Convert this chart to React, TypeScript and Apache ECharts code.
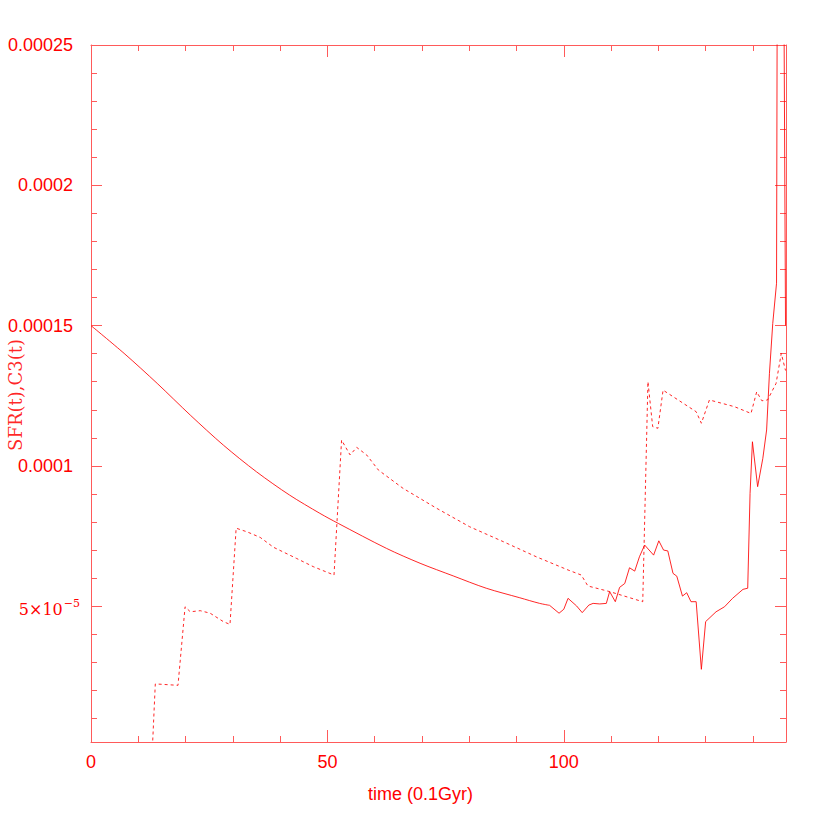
import React, { useEffect, useRef } from "react";
import * as echarts from "echarts";

// ---- data ----
// SFR(t): smooth early decline
const sfrEarlyTime = [0, 7, 14, 21, 28, 35, 42, 48.4, 52.3, 62.5, 69.6, 76.6, 83.6, 90.7, 94.9, 97.0];
const sfrEarlyValues = [1.5e-4, 1.401e-4, 1.294e-4, 1.181e-4, 1.074e-4, 0.979e-4, 0.896e-4, 0.831e-4, 0.795e-4, 0.706e-4, 0.653e-4, 0.608e-4, 0.564e-4, 0.530e-4, 0.510e-4, 0.503e-4];
// SFR(t): noisy late part
const sfrLateTime = [97.0, 99.0, 100.0, 100.9, 102.7, 103.9, 105.3, 106.2, 107.6, 109.0, 109.7, 110.9, 111.8, 112.9, 113.9, 115.0, 116.0, 117.1, 119.0, 120.1, 121.1, 122.0, 123.1, 123.9, 125.1, 126.0, 126.9, 128.0, 129.1, 130.0, 132.2, 134.0, 135.7, 137.9, 138.9, 139.4, 139.9, 141.0, 142.1, 142.9, 143.5, 144.2, 145.0, 145.6, 146.9];
const sfrLateValues = [0.503e-4, 0.475e-4, 0.489e-4, 0.528e-4, 0.501e-4, 0.477e-4, 0.504e-4, 0.510e-4, 0.508e-4, 0.510e-4, 0.552e-4, 0.516e-4, 0.567e-4, 0.581e-4, 0.637e-4, 0.625e-4, 0.676e-4, 0.718e-4, 0.682e-4, 0.733e-4, 0.700e-4, 0.697e-4, 0.617e-4, 0.607e-4, 0.536e-4, 0.548e-4, 0.516e-4, 0.516e-4, 0.275e-4, 0.445e-4, 0.480e-4, 0.498e-4, 0.528e-4, 0.560e-4, 0.564e-4, 0.902e-4, 1.086e-4, 0.926e-4, 1.027e-4, 1.128e-4, 1.330e-4, 1.508e-4, 1.651e-4, 6.0e-4, 1.5e-4];

// C3(t)
const c3Time = [13.0, 13.6, 18.4, 19.9, 21.0, 23.1, 25.2, 28.0, 29.4, 30.7, 33.0, 35.8, 38.6, 43.5, 47.0, 51.4, 53.0, 54.8, 56.2, 58.3, 60.8, 66.0, 73.1, 80.1, 87.2, 94.2, 100.9, 103.7, 105.1, 109.7, 116.7, 117.8, 118.8, 119.9, 121.0, 128.0, 129.1, 130.8, 136.1, 139.6, 140.8, 141.9, 143.1, 144.9, 146.0, 146.9];
const c3Values = [0.0, 0.223e-4, 0.218e-4, 0.498e-4, 0.480e-4, 0.484e-4, 0.475e-4, 0.445e-4, 0.435e-4, 0.778e-4, 0.765e-4, 0.745e-4, 0.710e-4, 0.670e-4, 0.641e-4, 0.611e-4, 1.092e-4, 1.039e-4, 1.066e-4, 1.039e-4, 0.985e-4, 0.920e-4, 0.849e-4, 0.783e-4, 0.730e-4, 0.676e-4, 0.629e-4, 0.611e-4, 0.572e-4, 0.552e-4, 0.516e-4, 1.300e-4, 1.140e-4, 1.134e-4, 1.270e-4, 1.193e-4, 1.152e-4, 1.235e-4, 1.211e-4, 1.187e-4, 1.264e-4, 1.232e-4, 1.235e-4, 1.294e-4, 1.401e-4, 1.34e-4];

const xMin = 0;
const xMax = 147;
const xMajorStep = 50;
const xMinorStep = 10;
const yMin = 1.6e-6;
const yMax = 2.5e-4;
const yTicks = [5e-5, 1e-4, 1.5e-4, 2e-4, 2.5e-4];
const yTickLabels = ["5×10|−5", "0.0001", "0.00015", "0.0002", "0.00025"];
const yMinorStep = 1e-5;
const xTitle = "time (0.1Gyr)";
const yTitle = "SFR(t),C3(t)";

const RED = "#ff0000";
const AXIS = "#ff5a5a";

export default function App() {
  const ref = useRef<HTMLDivElement>(null);
  useEffect(() => {
    if (!ref.current) return;
    const chart = echarts.init(ref.current, null, { renderer: "svg" });

    const yMinor: number[] = [];
    for (let i = 1; i * yMinorStep <= yMax + 1e-12; i++) yMinor.push(+(i * yMinorStep).toPrecision(6));

    const xBase = (pos: string, major: boolean) => ({
      type: "value",
      position: pos,
      min: xMin,
      max: xMax,
      interval: major ? xMajorStep : xMinorStep,
      splitLine: { show: false },
      axisLine: { show: major, onZero: false, lineStyle: { color: AXIS, width: 1 } },
      axisTick: { show: true, inside: true, length: major ? 12 : 6, lineStyle: { color: AXIS, width: 1 } },
      axisLabel: {
        show: major && pos === "bottom",
        color: RED,
        fontSize: 18,
        fontFamily: "Liberation Sans, Arial, sans-serif",
        margin: 11,
        showMaxLabel: false,
      },
    });

    const yBase = (pos: string, major: boolean) => ({
      type: "value",
      position: pos,
      min: yMin,
      max: yMax,
      splitLine: { show: false },
      axisLine: { show: major, onZero: false, lineStyle: { color: AXIS, width: 1 } },
      axisTick: {
        show: true,
        inside: true,
        length: major ? 11 : 6,
        customValues: major ? yTicks : yMinor,
        lineStyle: { color: AXIS, width: 1 },
      },
      axisLabel: {
        show: major && pos === "left",
        customValues: yTicks,
        margin: 11,
        formatter: (v: number) => {
          let idx = -1;
          yTicks.forEach((t, i) => {
            if (Math.abs(t - v) < 1e-9) idx = i;
          });
          if (idx < 0) return "";
          const lab = yTickLabels[idx];
          if (lab.indexOf("|") >= 0) {
            const [b, s] = lab.split("|");
            return "{sci|" + b + "}{sup|" + s + "}";
          }
          return "{n|" + lab + "}";
        },
        rich: {
          n: { color: RED, fontSize: 18, fontFamily: "Liberation Sans, Arial, sans-serif", padding: [0, 7, 0, 0] },
          sci: { color: RED, fontSize: 16, fontFamily: "DejaVu Serif, serif", padding: [6, 0, 0, 0] },
          sup: { color: RED, fontSize: 11, fontFamily: "DejaVu Serif, serif", padding: [0, 0, 6, 1] },
        },
      },
    });

    const lineBase = {
      type: "line",
      xAxisIndex: 0,
      yAxisIndex: 0,
      symbol: "none",
      showSymbol: false,
      clip: true,
    };

    chart.setOption({
      animation: false,
      backgroundColor: "#ffffff",
      grid: { left: 91, right: 44, top: 45, bottom: 88, containLabel: false },
      xAxis: [xBase("bottom", true), xBase("bottom", false), xBase("top", true), xBase("top", false)],
      yAxis: [yBase("left", true), yBase("left", false), yBase("right", true), yBase("right", false)],
      series: [
        {
          ...lineBase,
          name: "SFR",
          data: sfrEarlyTime.map((t, i) => [t, sfrEarlyValues[i]]),
          smooth: 0.3,
          lineStyle: { color: RED, width: 1, opacity: 0.85 },
        },
        {
          ...lineBase,
          name: "SFR",
          data: sfrLateTime.map((t, i) => [t, sfrLateValues[i]]),
          lineStyle: { color: RED, width: 1, opacity: 0.85 },
        },
        {
          ...lineBase,
          name: "C3",
          data: c3Time.map((t, i) => [t, c3Values[i]]),
          lineStyle: { color: RED, width: 1, type: [3, 3], opacity: 0.85 },
        },
      ],
      graphic: [
        {
          type: "text",
          left: 368,
          top: 785,
          style: { text: xTitle, fill: RED, font: "18px 'Liberation Sans', Arial, sans-serif" },
        },
        {
          type: "text",
          x: 15,
          y: 395,
          rotation: Math.PI / 2,
          style: {
            text: yTitle,
            fill: RED,
            font: "18px 'DejaVu Serif', serif",
            opacity: 0.85,
            align: "center",
            verticalAlign: "middle",
          },
        },
      ],
    });
    return () => chart.dispose();
  }, []);
  return <div ref={ref} style={{ position: "fixed", left: 0, top: 0, width: 830, height: 830 }} />;
}
